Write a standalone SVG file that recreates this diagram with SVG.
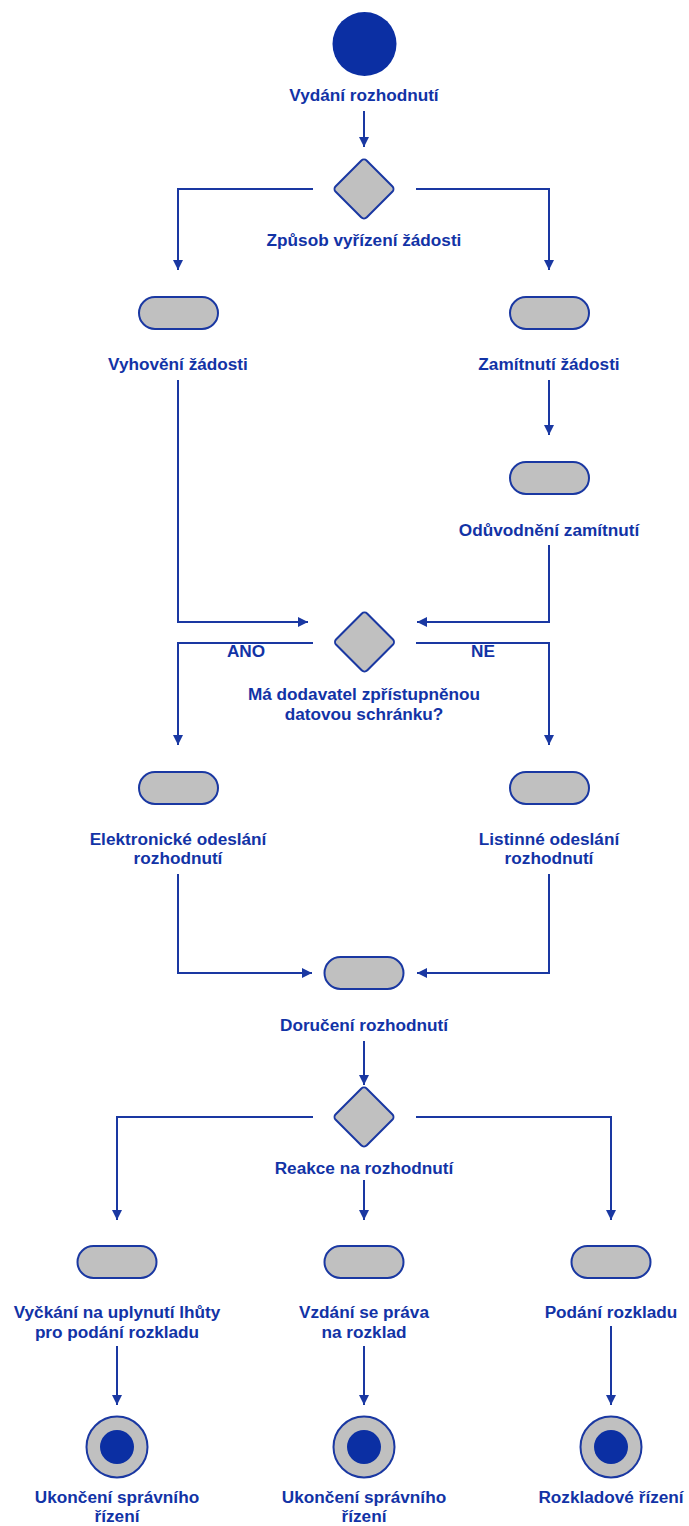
<svg xmlns="http://www.w3.org/2000/svg" width="689" height="1526" viewBox="0 0 689 1526">
  <style>
    .lbl { font-family: "Liberation Sans", Arial, sans-serif; font-weight: bold; font-size: 17.2px; fill: #1233a6; text-anchor: middle; }
    .act { fill: #c0c0c0; stroke: #1a38a2; stroke-width: 2; }
    .dec { fill: #c0c0c0; stroke: #1a38a2; stroke-width: 2; }
    .edge { fill: none; stroke: #1a38a2; stroke-width: 2; marker-end: url(#arrow); }
    .line { fill: none; stroke: #1a38a2; stroke-width: 2; }
    .dot { fill: #0b2fa3; }
  </style>
  <defs>
    <marker id="arrow" markerUnits="userSpaceOnUse" viewBox="0 0 10 10" refX="10" refY="5" markerWidth="12" markerHeight="10" orient="auto">
      <path d="M0,0 L10,5 L0,10 z" fill="#1a38a2"/>
    </marker>
    <rect id="diamond" x="-22" y="-22" width="44" height="44" rx="4" transform="rotate(45)"/>
    <rect id="pill" x="-39.5" y="-16" width="79" height="32" rx="16"/>
  </defs>
  <rect width="689" height="1526" fill="#ffffff"/>

  <!-- connectors -->
  <g id="connectors">
    <path class="edge" d="M364,111 V147"/>
    <path class="edge" d="M313,189 H178 V270"/>
    <path class="edge" d="M416,189 H549 V270"/>
    <path class="edge" d="M549,380 V435"/>
    <path class="edge" d="M549,545 V622 H417"/>
    <path class="edge" d="M178,380 V622 H308"/>
    <path class="edge" d="M313,643 H178 V745"/>
    <path class="edge" d="M416,643 H549 V745"/>
    <path class="edge" d="M178,874 V973 H312"/>
    <path class="edge" d="M549,874 V973 H417"/>
    <path class="edge" d="M364,1041 V1085"/>
    <path class="edge" d="M313,1117 H117 V1220"/>
    <path class="edge" d="M416,1117 H611 V1220"/>
    <path class="edge" d="M364,1180 V1220"/>
    <path class="edge" d="M117,1346 V1405"/>
    <path class="edge" d="M364,1346 V1405"/>
    <path class="edge" d="M611,1326 V1405"/>
    <rect x="226" y="644" width="40" height="16" fill="#ffffff"/>
    <text class="lbl" x="246" y="657">ANO</text>
    <rect x="470" y="644" width="26" height="16" fill="#ffffff"/>
    <text class="lbl" x="483" y="657">NE</text>
  </g>

  <!-- start -->
  <g id="start">
    <circle class="dot" cx="364.5" cy="44" r="32"/>
    <text class="lbl" x="364" y="101">Vydání rozhodnutí</text>
  </g>

  <g id="decision-zpusob">
    <use href="#diamond" class="dec" transform="translate(364,189)"/>
    <text class="lbl" x="364" y="246">Způsob vyřízení žádosti</text>
  </g>

  <g id="act-vyhoveni">
    <use href="#pill" class="act" transform="translate(178.5,313)"/>
    <text class="lbl" x="178" y="370">Vyhovění žádosti</text>
  </g>

  <g id="act-zamitnuti">
    <use href="#pill" class="act" transform="translate(549.5,313)"/>
    <text class="lbl" x="549" y="370">Zamítnutí žádosti</text>
  </g>

  <g id="act-oduvodneni">
    <use href="#pill" class="act" transform="translate(549.5,478)"/>
    <text class="lbl" x="549" y="536">Odůvodnění zamítnutí</text>
  </g>

  <g id="decision-schranka">
    <use href="#diamond" class="dec" transform="translate(364.5,642)"/>
    <text class="lbl" x="364" y="700">Má dodavatel zpřístupněnou</text>
    <text class="lbl" x="364" y="720">datovou schránku?</text>
  </g>

  <g id="act-elektronicke">
    <use href="#pill" class="act" transform="translate(178.5,788)"/>
    <text class="lbl" x="178" y="845">Elektronické odeslání</text>
    <text class="lbl" x="178" y="864">rozhodnutí</text>
  </g>

  <g id="act-listinne">
    <use href="#pill" class="act" transform="translate(549.5,788)"/>
    <text class="lbl" x="549" y="845">Listinné odeslání</text>
    <text class="lbl" x="549" y="864">rozhodnutí</text>
  </g>

  <g id="act-doruceni">
    <use href="#pill" class="act" transform="translate(364,973)"/>
    <text class="lbl" x="364" y="1031">Doručení rozhodnutí</text>
  </g>

  <g id="decision-reakce">
    <use href="#diamond" class="dec" transform="translate(364,1117)"/>
    <text class="lbl" x="364" y="1174">Reakce na rozhodnutí</text>
  </g>

  <g id="act-vyckani">
    <use href="#pill" class="act" transform="translate(117,1262)"/>
    <text class="lbl" x="117" y="1318">Vyčkání na uplynutí lhůty</text>
    <text class="lbl" x="117" y="1338">pro podání rozkladu</text>
  </g>

  <g id="act-vzdani">
    <use href="#pill" class="act" transform="translate(364,1262)"/>
    <text class="lbl" x="364" y="1318">Vzdání se práva</text>
    <text class="lbl" x="364" y="1338">na rozklad</text>
  </g>

  <g id="act-podani">
    <use href="#pill" class="act" transform="translate(611,1262)"/>
    <text class="lbl" x="611" y="1318">Podání rozkladu</text>
  </g>

  <g id="end-1">
    <circle cx="117" cy="1447" r="30.5" fill="#c0c0c0" stroke="#1a38a2" stroke-width="2"/>
    <circle class="dot" cx="117" cy="1447" r="17"/>
    <text class="lbl" x="117" y="1503">Ukončení správního</text>
    <text class="lbl" x="117" y="1522">řízení</text>
  </g>

  <g id="end-2">
    <circle cx="364" cy="1447" r="30.5" fill="#c0c0c0" stroke="#1a38a2" stroke-width="2"/>
    <circle class="dot" cx="364" cy="1447" r="17"/>
    <text class="lbl" x="364" y="1503">Ukončení správního</text>
    <text class="lbl" x="364" y="1522">řízení</text>
  </g>

  <g id="end-3">
    <circle cx="611" cy="1447" r="30.5" fill="#c0c0c0" stroke="#1a38a2" stroke-width="2"/>
    <circle class="dot" cx="611" cy="1447" r="17"/>
    <text class="lbl" x="611" y="1503">Rozkladové řízení</text>
  </g>
</svg>
